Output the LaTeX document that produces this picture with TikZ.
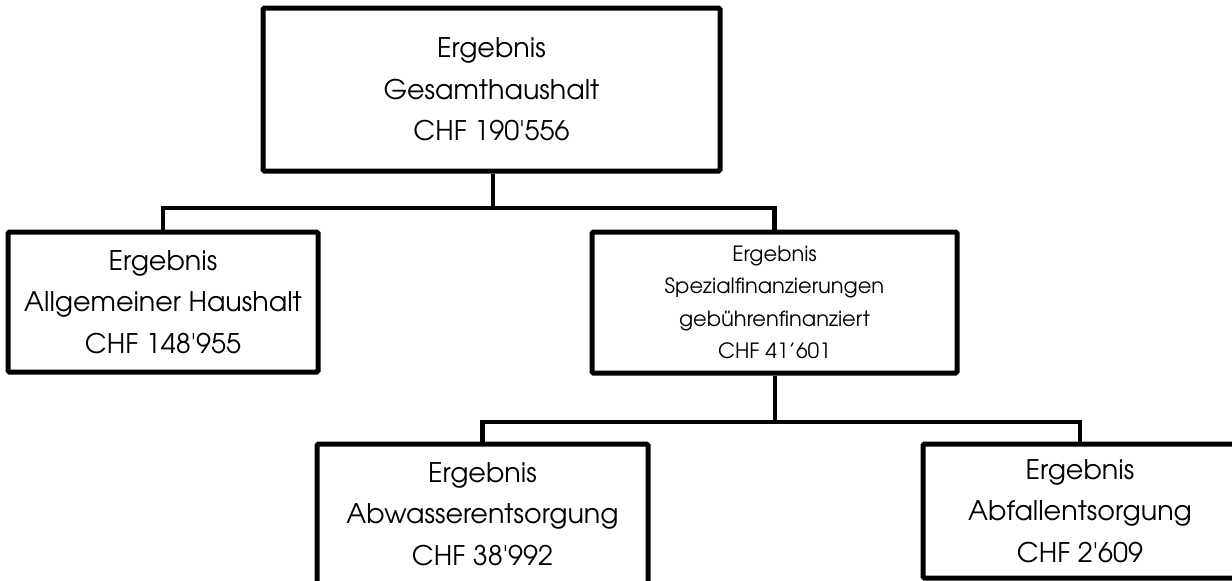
\documentclass[tikz,border=0pt]{standalone}
\usepackage{fontspec}
\setmainfont{TeX Gyre Adventor}
\begin{document}
\begin{tikzpicture}[x=1pt,y=-1pt,
  box/.style={draw=black,line width=5pt,rounded corners=1.5pt,inner sep=0pt,fill=white,align=center},
  bigtext/.style={font=\fontsize{27}{41.5}\selectfont},
  smalltext/.style={font=\fontsize{21}{32.5}\selectfont},
  conn/.style={draw=black,line width=4.5pt}]
\useasboundingbox (0,0) rectangle (1232,581);
\fill[white] (0,0) rectangle (1232,581);
\clip (0,0) rectangle (1232,581);
\node[box,bigtext,minimum width=457pt,minimum height=163pt] (top) at (491.5,89.5)
  {Ergebnis\\Gesamthaushalt\\CHF 190\textquotesingle 556};
\node[box,bigtext,minimum width=310pt,minimum height=140pt] (left) at (163,302)
  {Ergebnis\\Allgemeiner Haushalt\\CHF 148\textquotesingle 955};
\node[box,smalltext,minimum width=365pt,minimum height=141pt] (mid) at (774.5,302.5)
  {Ergebnis\\Spezialfinanzierungen\\gebührenfinanziert\\CHF 41’601};
\node[box,bigtext,minimum width=331pt,minimum height=140pt] (bl) at (482.5,514)
  {Ergebnis\\Abwasserentsorgung\\CHF 38\textquotesingle 992};
\node[box,bigtext,minimum width=314pt,minimum height=134pt] (br) at (1080,511)
  {Ergebnis\\Abfallentsorgung\\CHF 2\textquotesingle 609};
\coordinate (b1) at (493,208);
\coordinate (b2) at (775,422);
\draw[conn] (top.south -| b1) -- (b1);
\draw[conn] (left.north) -- (left.north |- b1) -- (mid.north |- b1) -- (mid.north);
\draw[conn] (mid.south -| b2) -- (b2);
\draw[conn] (bl.north) -- (bl.north |- b2) -- (br.north |- b2) -- (br.north);
\end{tikzpicture}
\end{document}
